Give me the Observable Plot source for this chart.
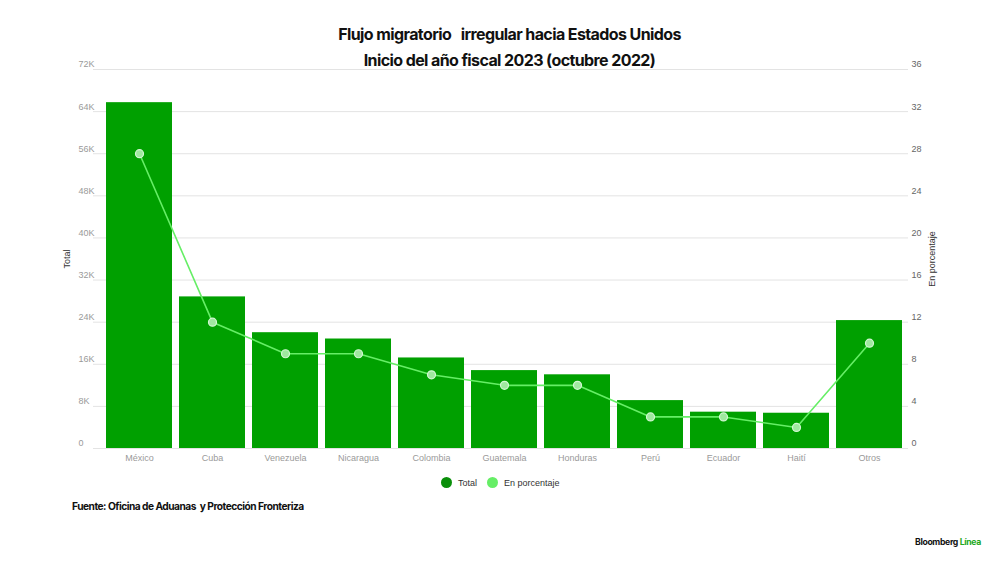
<!DOCTYPE html>
<html>
<head>
<meta charset="utf-8">
<script src="https://cdn.jsdelivr.net/npm/d3@7"></script>
<script src="https://cdn.jsdelivr.net/npm/@observablehq/plot@0.6"></script>
<style>
  html, body { margin: 0; padding: 0; background: #fff; }
  #wrap { position: relative; width: 1000px; height: 562px; overflow: hidden; font-family: "Liberation Sans", Arial, sans-serif; }
  #chart { position: absolute; left: 0; top: 0; }
  .title { position: absolute; left: 0; width: 1019px; text-align: center; font-family: Inter, "Liberation Sans", sans-serif; font-weight: 700; font-size: 16px; letter-spacing: -0.6px; color: #111; white-space: pre; }
  #legend { position: absolute; top: 477px; left: 441px; font-size: 9px; color: #333; display: flex; align-items: center; white-space: nowrap; }
  #legend .dot { display: inline-block; width: 11px; height: 11px; border-radius: 50%; margin-right: 6px; }
  #source { position: absolute; left: 72px; top: 500px; font-family: Inter, "Liberation Sans", sans-serif; font-weight: 700; font-size: 10.2px; letter-spacing: -0.5px; color: #111; white-space: pre; }
  #brand { position: absolute; left: 915px; top: 537px; font-family: Inter, "Liberation Sans", sans-serif; font-weight: 700; font-size: 8.7px; letter-spacing: -0.35px; color: #111; white-space: pre; }
</style>
</head>
<body>
<div id="wrap">
  <div id="chart"></div>
  <div class="title" style="top:24px">Flujo migratorio   irregular hacia Estados Unidos</div>
  <div class="title" style="top:50px">Inicio del año fiscal 2023 (octubre 2022)</div>
  <div id="legend">
    <span class="dot" style="background:#0a8f0a"></span><span style="margin-right:10px">Total</span>
    <span class="dot" style="background:#66ee66"></span><span>En porcentaje</span>
  </div>
  <div id="source">Fuente: Oficina de Aduanas  y Protección Fronteriza</div>
  <div id="brand">Bloomberg <span style="color:#22a822">Línea</span></div>
</div>
<script>
const paises = ["México", "Cuba", "Venezuela", "Nicaragua", "Colombia", "Guatemala", "Honduras", "Perú", "Ecuador", "Haití", "Otros"];
const totales = [65700, 28800, 22000, 20800, 17200, 14800, 14000, 9100, 6900, 6700, 24300];
const porcentajes = [28, 12, 9, 9, 7, 6, 6, 3, 3, 2, 10];
const ticksTotal = [0, 8000, 16000, 24000, 32000, 40000, 48000, 56000, 64000, 72000];
const ticksPct = [0, 4, 8, 12, 16, 20, 24, 28, 32, 36];

const ratio = 72000 / 36;
const data = paises.map((p, i) => ({pais: p, total: totales[i], pct: porcentajes[i]}));
const fmtK = d => d === 0 ? "0" : (d / 1000) + "K";

const chart = Plot.plot({
  width: 1000,
  height: 562,
  marginTop: 69,
  marginBottom: 114,
  marginLeft: 93,
  marginRight: 92,
  style: {fontFamily: "'Liberation Sans', Arial, sans-serif", background: "transparent"},
  x: {domain: paises, range: [101.5, 906.5], paddingInner: 0.1, paddingOuter: 0.05, label: null},
  y: {domain: [0, 72000], axis: null, label: null},
  marks: [
    Plot.ruleY(ticksTotal, {stroke: "#e3e3e3", strokeWidth: 1}),
    Plot.barY(data, {x: "pais", y: "total", fill: "#00a000"}),
    Plot.line(data, {x: "pais", y: d => d.pct * ratio, stroke: "#66ee66", strokeWidth: 1.6}),
    Plot.dot(data, {x: "pais", y: d => d.pct * ratio, r: 4, fill: "#9fe89f", stroke: "#d4f7d4", strokeWidth: 1.2}),
    Plot.text(ticksTotal, {y: d => d, text: fmtK, frameAnchor: "left", dx: -15, dy: -5, textAnchor: "start", fill: "#9a9a9a", fontSize: 9}),
    Plot.text(ticksPct, {y: d => d * ratio, text: d => String(d), frameAnchor: "right", dx: 3, dy: -5, textAnchor: "start", fill: "#666", fontSize: 9}),
    Plot.axisX({tickSize: 0, tickPadding: 6, fill: "#9a9a9a", fontSize: 9, label: null}),
    Plot.text(["Total"], {frameAnchor: "left", dx: -26, rotate: -90, textAnchor: "middle", fill: "#333", fontSize: 9}),
    Plot.text(["En porcentaje"], {frameAnchor: "right", dx: 24, rotate: -90, textAnchor: "middle", fill: "#333", fontSize: 9})
  ]
});
document.getElementById("chart").appendChild(chart);
</script>
</body>
</html>
